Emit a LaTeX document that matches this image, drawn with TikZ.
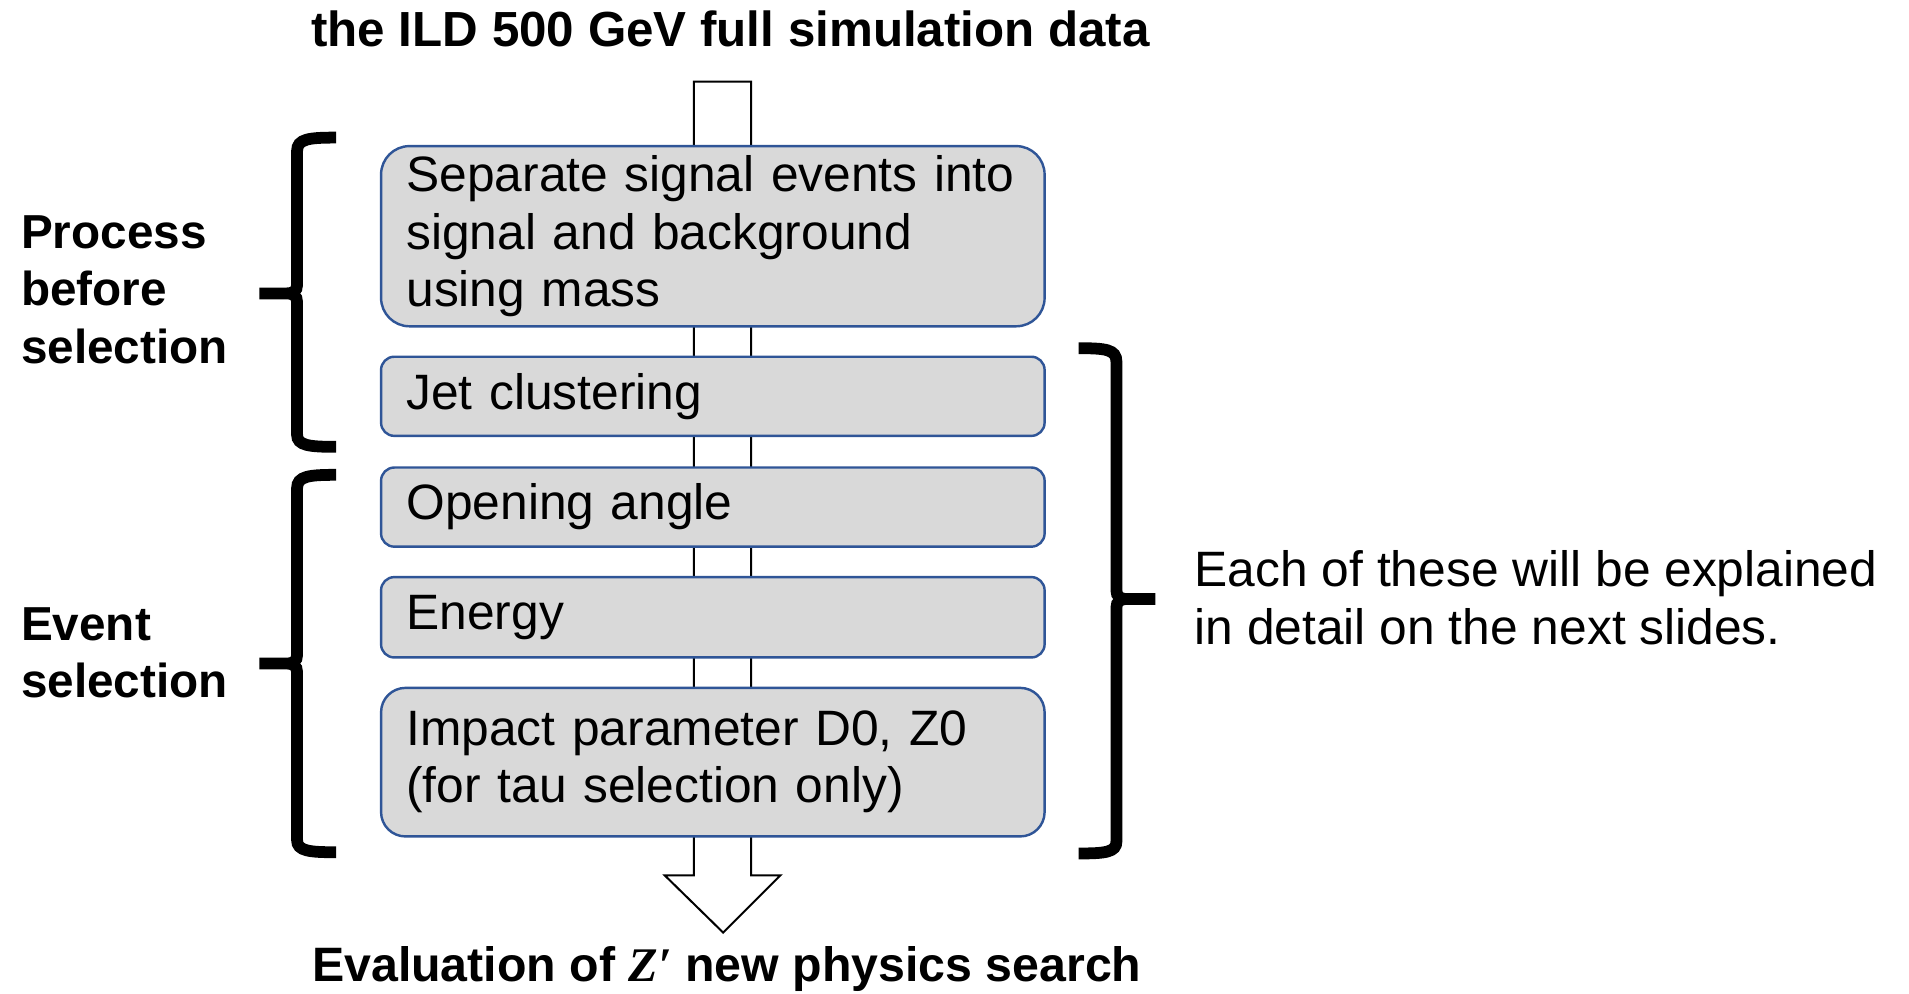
\documentclass[tikz,border=0pt]{standalone}
\usepackage{fontspec}
\setmainfont{Liberation Sans}
\newfontfamily\primefont{Liberation Serif}
\definecolor{boxgray}{HTML}{D9D9D9}
\definecolor{boxblue}{HTML}{2F5597}
\tikzset{
  stepbox/.style={draw=boxblue, fill=boxgray, line width=1.2pt, anchor=north west,
    text width=302pt, align=left, inner xsep=12.5pt, inner ysep=0pt,
    font=\fontsize{24.5}{28.2}\selectfont},
  flowarrow/.style={draw=black, fill=white, line width=1pt, line join=miter},
  bracepath/.style={draw=black, line width=5.8pt, line cap=butt, line join=miter},
  headline/.style={font=\fontsize{24.3}{29}\selectfont\bfseries, inner sep=0pt},
  grouplabel/.style={font=\fontsize{23.5}{28.2}\selectfont\bfseries, align=left, anchor=west, inner sep=0pt},
  note/.style={font=\fontsize{24.5}{28.8}\selectfont, align=left, anchor=west, inner sep=0pt}
}
\begin{document}
\begin{tikzpicture}[x=0.6pt, y=-0.6pt]
\useasboundingbox (0,0) rectangle (1568,816);

% titles
\node[headline] (src) at (600,24) {the ILD 500 GeV full simulation data};
\node[headline, font=\fontsize{23.8}{29}\selectfont\bfseries] (dst) at (597,796)
  {Evaluation of {\primefont\bfseries\itshape Z′} new physics search};

% block arrow running behind the steps
\coordinate (aTL) at (570,67);
\coordinate (aTR) at (617,67);
\coordinate (aR) at (617,719);
\coordinate (hR) at (641,719);
\coordinate (tip) at (594,766);
\coordinate (hL) at (546,719);
\coordinate (aL) at (570,719);
\path[flowarrow] (aTL) -- (aTR) -- (aR) -- (hR) -- (tip) -- (hL) -- (aL) -- cycle;

% processing steps
\node[stepbox, minimum height=88.8pt, rounded corners=14pt] (s1) at (312,119)
  {Separate signal events into\\signal and background\\using mass};
\node[stepbox, minimum height=39pt, rounded corners=6.5pt] (s2) at (312,292) {Jet clustering};
\node[stepbox, minimum height=39pt, rounded corners=6.5pt] (s3) at (312,383) {Opening angle};
\node[stepbox, minimum height=39.6pt, rounded corners=6.5pt] (s4) at (312,473) {Energy};
\node[stepbox, minimum height=73.2pt, rounded corners=12pt] (s5) at (312,564)
  {Impact parameter D0, Z0\\(for tau selection only)};

% left braces
\path[bracepath] (276,113) .. controls (254,113) and (244,114) .. (244,124)
  -- (244,234) .. controls (244,239) and (241,241) .. (235,241) -- (213,241)
  -- (235,241) .. controls (241,241) and (244,243) .. (244,248)
  -- (244,357) .. controls (244,366) and (254,367) .. (276,367);
\path[bracepath] (276,390) .. controls (254,390) and (244,391) .. (244,401)
  -- (244,538) .. controls (244,543) and (241,545) .. (235,545) -- (213,545)
  -- (235,545) .. controls (241,545) and (244,547) .. (244,552)
  -- (244,690) .. controls (244,699) and (254,700) .. (276,700);

% right brace
\path[bracepath] (886,286) .. controls (908,286) and (917,287) .. (917,297)
  -- (917,485) .. controls (917,490) and (920,492) .. (926,492) -- (949,492)
  -- (926,492) .. controls (920,492) and (917,494) .. (917,499)
  -- (917,691) .. controls (917,700) and (908,701) .. (886,701);

% group labels
\node[grouplabel] (g1) at (17,238) {Process\\before\\selection};
\node[grouplabel] (g2) at (17,536) {Event\\selection};
\node[note] (n1) at (981,491) {Each of these will be explained\\in detail on the next slides.};
\end{tikzpicture}
\end{document}
